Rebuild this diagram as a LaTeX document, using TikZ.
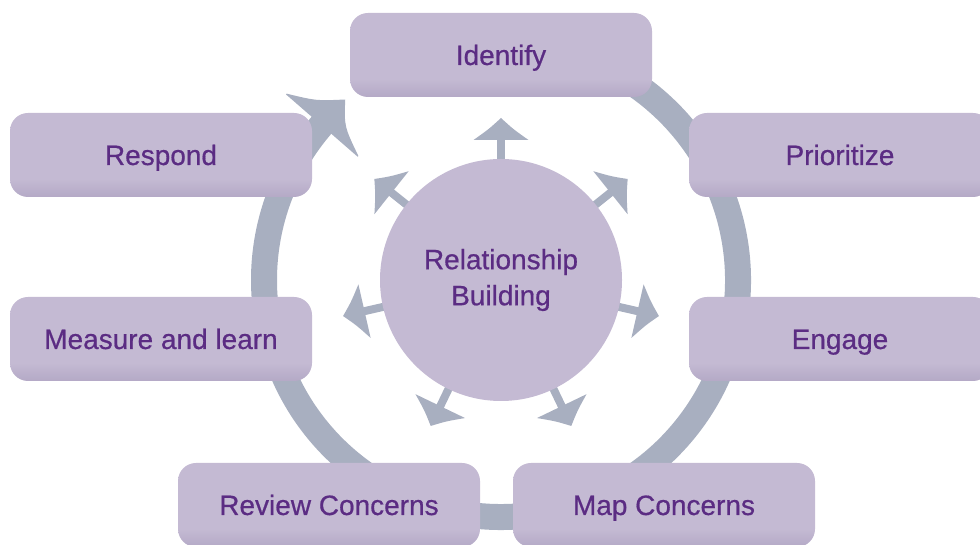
\documentclass[tikz,border=0pt]{standalone}
\usepackage{fontspec}
\setmainfont{Liberation Sans}[FakeBold=0.6,AutoFakeBold=0.6]
\definecolor{boxfill}{RGB}{196,186,211}
\definecolor{boxdark}{RGB}{180,169,198}
\definecolor{txt}{RGB}{91,44,131}
\definecolor{ringc}{RGB}{168,175,192}
\pgfdeclareverticalshading{boxshade}{100bp}{color(0bp)=(boxdark); color(25bp)=(boxdark); color(36bp)=(boxfill); color(100bp)=(boxfill)}
\begin{document}
\begin{tikzpicture}[x=1pt,y=1pt,
  stage/.style={shade, shading=boxshade, rounded corners=18pt, minimum width=302pt, minimum height=84pt,
    text=txt, font=\fontsize{28}{34}\selectfont\bfseries, text height=20pt, text depth=0pt, inner sep=0pt},
  hub/.style={circle, fill=boxfill, minimum size=242pt, inner sep=0pt},
  hubtext/.style={text=txt, font=\fontsize{28}{36}\selectfont\bfseries, align=center},
  ringline/.style={draw=ringc, line width=26pt},
  ringfill/.style={fill=ringc}]
\useasboundingbox (0,0) rectangle (980,545);
\clip (0,0) rectangle (980,545);
\coordinate (C) at (501,265);
% big cycle ring
\draw[ringline] (C) ++(100:237) arc[start angle=100, end angle=-221, radius=237];
\begin{scope}[shift={(C)}, rotate=139]
  \fill[ringfill] (284,1) -- (284,0) .. controls (257,-14) .. (236,-34) .. controls (219,-13) .. (189,0) -- (189,1) -- cycle;
\end{scope}
% radial arrows
\foreach \i in {0,...,6}{
  \begin{scope}[shift={(C)}, rotate={90-\i*51.4286}]
    \fill[ringfill] (110,-4) rectangle (142,4);
    \fill[ringfill] (140,-27.5) .. controls (151,-12) .. (162,0) .. controls (151,12) .. (140,27.5) -- cycle;
  \end{scope}
}
% hub
\node[hub] (rb) at (C) {};
\node[hubtext] (rbt) at (C) {Relationship\\Building};
% stages
\node[stage] (identify) at (501,490) {Identify};
\node[stage] (respond) at (161,390) {Respond};
\node[stage] (prioritize) at (840,390) {Prioritize};
\node[stage] (measure) at (161,206) {Measure and learn};
\node[stage] (engage) at (840,206) {Engage};
\node[stage] (review) at (329,40) {Review Concerns};
\node[stage] (map) at (664,40) {Map Concerns};
\end{tikzpicture}
\end{document}
